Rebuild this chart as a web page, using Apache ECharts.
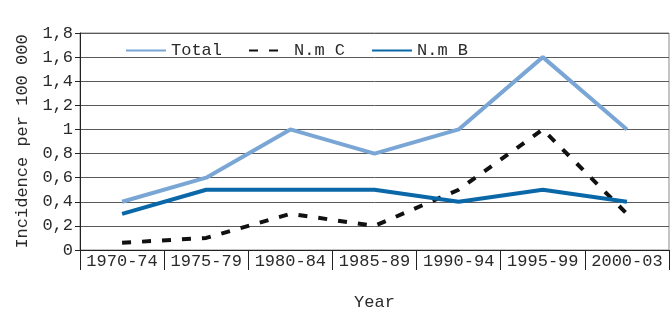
<!DOCTYPE html>
<html>
<head>
<meta charset="utf-8">
<script src="https://cdn.jsdelivr.net/npm/echarts@6/dist/echarts.min.js"></script>
<style>
  html, body { margin: 0; padding: 0; background: #fff; }
  #chart { width: 671px; height: 311px; }
</style>
</head>
<body>
<div id="chart"></div>
<script>
// categories and values
const years = ['1970-74', '1975-79', '1980-84', '1985-89', '1990-94', '1995-99', '2000-03'];
const total = [0.4, 0.6, 1.0, 0.8, 1.0, 1.6, 1.0];
const nmC = [0.06, 0.1, 0.3, 0.2, 0.5, 1.0, 0.3];
const nmB = [0.3, 0.5, 0.5, 0.5, 0.4, 0.5, 0.4];

const font = 'Liberation Mono';
const textColor = '#2a2a2a';

const chart = echarts.init(document.getElementById('chart'));

chart.setOption({
  animation: false,
  textStyle: { fontFamily: font },
  grid: {
    left: 80, right: 2, top: 33, bottom: 61,
    outerBoundsMode: 'none',
    containLabel: false,
    show: true, borderColor: '#8a8a8a', borderWidth: 1
  },
  legend: {
    top: 37, left: 120,
    itemWidth: 40, itemHeight: 14, itemGap: 26,
    itemStyle: { opacity: 0 },
    textStyle: { fontFamily: font, fontSize: 17, color: textColor },
    data: ['Total', 'N.m C', 'N.m B']
  },
  xAxis: {
    type: 'category',
    data: years,
    boundaryGap: true,
    name: 'Year',
    nameLocation: 'middle',
    nameGap: 44,
    nameTextStyle: { fontFamily: font, fontSize: 17, color: textColor },
    axisLine: { lineStyle: { color: '#222', width: 1 } },
    axisTick: { show: true, interval: 0, length: 20, lineStyle: { color: '#222' } },
    axisLabel: { interval: 0, fontSize: 17, color: textColor, margin: 3 }
  },
  yAxis: {
    type: 'value',
    min: 0, max: 1.8, interval: 0.2,
    name: 'Incidence per 100 000',
    nameLocation: 'middle',
    nameGap: 49,
    nameTextStyle: { fontFamily: font, fontSize: 17, color: textColor },
    axisLine: { show: true, lineStyle: { color: '#222' } },
    axisTick: { show: true, length: 5, lineStyle: { color: '#222' } },
    axisLabel: {
      fontSize: 17, color: textColor, margin: 7,
      formatter: v => String(Math.round(v * 10) / 10).replace('.', ',')
    },
    splitLine: { lineStyle: { color: '#5a5a5a', width: 1 } }
  },
  series: [
    {
      name: 'Total', type: 'line', data: total,
      symbol: 'none',
      lineStyle: { color: '#7aa6d6', width: 4 },
      itemStyle: { color: '#7aa6d6' }
    },
    {
      name: 'N.m C', type: 'line', data: nmC,
      symbol: 'none',
      lineStyle: { color: '#111', width: 4, type: [9, 11] },
      itemStyle: { color: '#111' }
    },
    {
      name: 'N.m B', type: 'line', data: nmB,
      symbol: 'none',
      lineStyle: { color: '#0a68a8', width: 4 },
      itemStyle: { color: '#0a68a8' }
    }
  ]
});
</script>
</body>
</html>
